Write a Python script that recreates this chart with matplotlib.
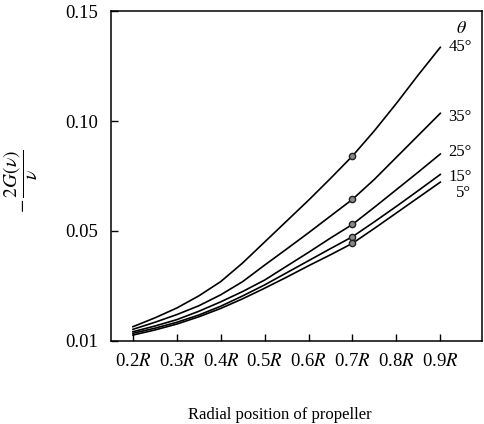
import numpy as np
import matplotlib
matplotlib.use('Agg')
import matplotlib.pyplot as plt

plt.rcParams['font.family'] = ['Liberation Serif', 'DejaVu Serif']
plt.rcParams['mathtext.fontset'] = 'stix'

# radial positions (fraction of R)
r_pos = [0.2, 0.25, 0.3, 0.35, 0.4, 0.45, 0.5, 0.55, 0.6, 0.65, 0.7, 0.75, 0.8, 0.85, 0.9]
# -2G(v)/v curves for each theta
g_45 = [0.0065, 0.0105, 0.0150, 0.0205, 0.0270, 0.0355, 0.0450, 0.0545, 0.0640, 0.0739,
        0.0841, 0.0956, 0.1080, 0.1210, 0.1335]
g_35 = [0.0053, 0.0085, 0.0120, 0.0160, 0.0210, 0.0270, 0.0345, 0.0418, 0.0492, 0.0568,
        0.0644, 0.0735, 0.0835, 0.0935, 0.1035]
g_25 = [0.0042, 0.0068, 0.0097, 0.0135, 0.0178, 0.0225, 0.0277, 0.0340, 0.0403, 0.0468,
        0.0530, 0.0608, 0.0688, 0.0768, 0.0850]
g_15 = [0.0035, 0.0058, 0.0085, 0.0118, 0.0158, 0.0205, 0.0255, 0.0310, 0.0365, 0.0420,
        0.0474, 0.0542, 0.0612, 0.0684, 0.0757]
g_5 = [0.0027, 0.0050, 0.0077, 0.0110, 0.0148, 0.0192, 0.0240, 0.0290, 0.0342, 0.0392,
       0.0444, 0.0512, 0.0582, 0.0652, 0.0722]
angles = ['45°', '35°', '25°', '15°', '5°']
marker_r = 0.7

x_ticks = [0.2, 0.3, 0.4, 0.5, 0.6, 0.7, 0.8, 0.9]
x_labels = ['0.2$R$', '0.3$R$', '0.4$R$', '0.5$R$', '0.6$R$', '0.7$R$', '0.8$R$', '0.9$R$']
y_ticks = [0.0, 0.05, 0.10, 0.15]
y_labels = ['0.01', '0.05', '0.10', '0.15']

fig = plt.figure(figsize=(4.84, 4.24), dpi=100)
ax = fig.add_axes([0.2293, 0.1958, 0.7666, 0.7782])

curves = [g_45, g_35, g_25, g_15, g_5]
label_dx = [0.018, 0.018, 0.018, 0.018, 0.035]
label_dy = [0.0, -0.0015, 0.0008, -0.0012, -0.0050]
for g, name, dx, dy in zip(curves, angles, label_dx, label_dy):
    ax.plot(r_pos, g, color='black', lw=1.2)
    i = r_pos.index(marker_r)
    ax.plot(r_pos[i], g[i], 'o', ms=4.5, mfc='#888888', mec='#222222', mew=1.0)
    ax.text(r_pos[-1] + dx, g[-1] + dy, name, fontsize=12, ha='left', va='center')

# theta header above the labels
ax.text(r_pos[-1] + 0.035, g_45[-1] + 0.0085, r'$\theta$', fontsize=13, ha='left', va='center')

ax.set_xlim(0.15, 0.995)
ax.set_ylim(0, 0.15)
ax.set_xticks(x_ticks)
ax.set_xticklabels(x_labels)
ax.set_yticks(y_ticks)
ax.set_yticklabels(y_labels)
ax.tick_params(direction='in', length=5, width=1, labelsize=13.5)
ax.tick_params(axis='x', pad=9)
ax.tick_params(axis='y', pad=9)
for s in ax.spines.values():
    s.set_linewidth(1.1)

# y label as a rotated fraction, centred left of the axes
fig.text(0.043, 0.573, r'$-\,\dfrac{2G(\nu)}{\nu}$', fontsize=14, rotation=90,
         ha='center', va='center')
ax.set_xlabel('Radial position of propeller', fontsize=12)
ax.xaxis.set_label_coords(0.456, -0.2)

fig.savefig('out.png', dpi=100)
